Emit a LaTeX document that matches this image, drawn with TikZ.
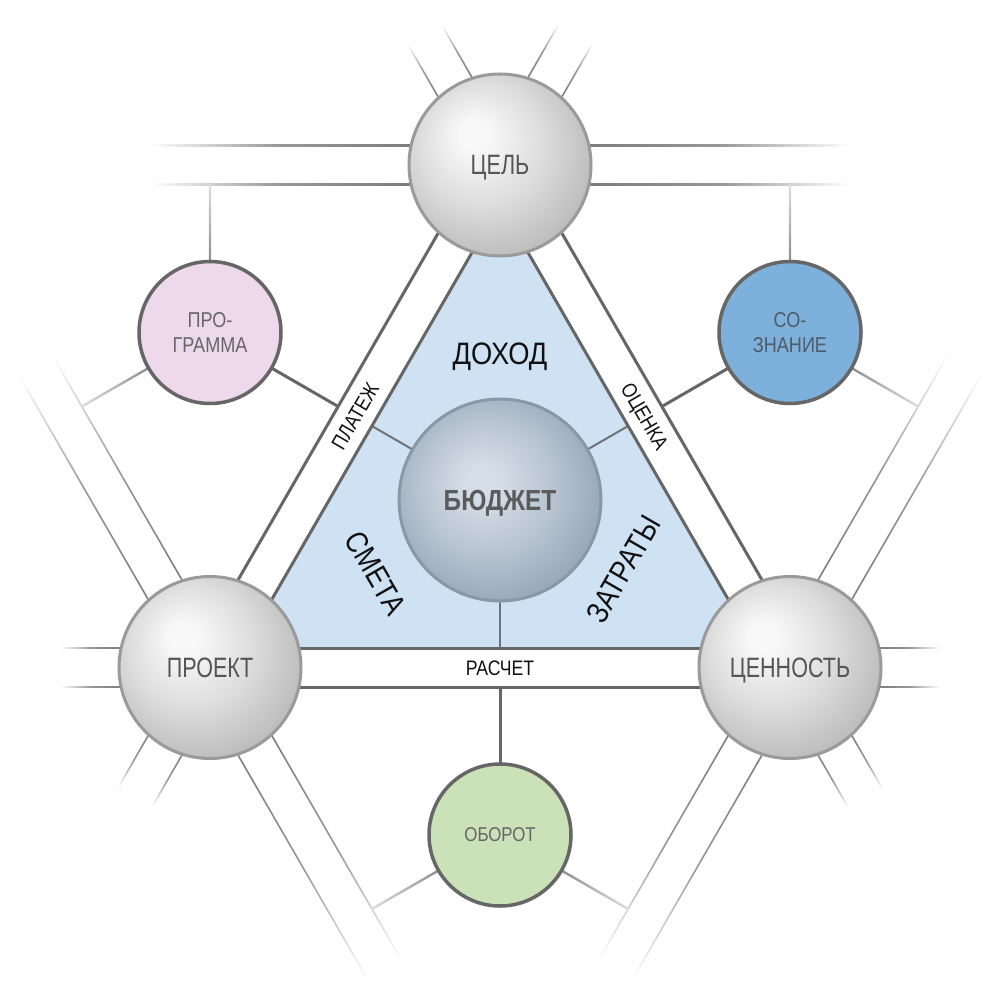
\documentclass[tikz,border=0pt]{standalone}
\usepackage{fontspec}
\setmainfont{Liberation Sans}
\newfontfamily\cond{Liberation Sans}[FakeStretch=0.77]
\newfontfamily\condw{Liberation Sans}[FakeStretch=0.84]
\newfontfamily\condx{Liberation Sans}[FakeStretch=0.88]
\usetikzlibrary{calc}
\definecolor{lnc}{HTML}{666666}
\definecolor{bandc}{HTML}{666666}
\definecolor{trif}{HTML}{CFE2F4}
\definecolor{sph0}{HTML}{F8F8F8}
\definecolor{sph1}{HTML}{DDDDDD}
\definecolor{sph2}{HTML}{BBBBBB}
\definecolor{sphb}{HTML}{9A9A9A}
\definecolor{bu0}{HTML}{D5DEE8}
\definecolor{bu1}{HTML}{B9C5D2}
\definecolor{bu2}{HTML}{95A4B5}
\definecolor{bub}{HTML}{8A97A4}
\definecolor{pinkf}{HTML}{EDD9EB}
\definecolor{bluef}{HTML}{7DB0DA}
\definecolor{greenf}{HTML}{CBE1B8}
\definecolor{labc}{HTML}{555555}
\definecolor{budtx}{HTML}{5B5B5B}
\definecolor{smc}{HTML}{666666}
\definecolor{soztx}{HTML}{4F5B66}
\definecolor{txk}{HTML}{111111}
\pgfdeclareradialshading{graysphere}{\pgfpoint{-8bp}{9bp}}{color(0bp)=(sph0); color(4bp)=(sph0); color(17bp)=(sph1); color(30bp)=(sph2); color(50bp)=(sph2)}
\pgfdeclareradialshading{bluesphere}{\pgfpoint{-5bp}{5bp}}{color(0bp)=(bu0); color(4bp)=(bu0); color(16bp)=(bu1); color(29bp)=(bu2); color(50bp)=(bu2)}
% fading line drawn as a thin shaded strip
% #1 start, #2 end, #3 direction angle, #4 start pct, #5 middle pct, #6 end pct, #7 half width
\newcommand\fadeline[7]{%
  \pgfmathsetmacro\cs{cos(#3)}%
  \ifdim\cs pt>0.01pt
    \tikzset{fadesty/.style={left color=lnc!#4!white, right color=lnc!#6!white, middle color=lnc!#5!white}}%
  \else\ifdim\cs pt<-0.01pt
    \tikzset{fadesty/.style={left color=lnc!#6!white, right color=lnc!#4!white, middle color=lnc!#5!white}}%
  \else
    \tikzset{fadesty/.style={top color=lnc!#6!white, bottom color=lnc!#4!white, middle color=lnc!#5!white}}%
  \fi\fi
  \shade[fadesty] ($(#1)!#7pt!90:(#2)$) -- ($(#2)!#7pt!-90:(#1)$) -- ($(#2)!#7pt!90:(#1)$) -- ($(#1)!#7pt!-90:(#2)$) -- cycle;}
% pair of fading lines continuing a band out of a big circle
\newcommand\bandext[3]{%
  \foreach \o in {90,270}{%
    \pgfmathsetmacro\pa{#2+\o}%
    \coordinate (xs) at ($(#1)+(#2:88)+(\pa:19.5)$);
    \coordinate (xe) at ($(#1)+(#2:#3)+(\pa:19.5)$);
    \fadeline{xs}{xe}{#2}{85}{68}{0}{0.8}
  }}
% outward spoke of a small circle
\newcommand\spoke[2]{%
  \coordinate (ys) at ($(#1)+(#2:70)$);
  \coordinate (ye) at ($(#1)+(#2:148)$);
  \fadeline{ys}{ye}{#2}{75}{48}{22}{1.2}}
% band strip between two big circles
\newcommand\band[2]{%
  \fill[white] ($(#1)!19.5pt!90:(#2)$) -- ($(#2)!19.5pt!-90:(#1)$) -- ($(#2)!19.5pt!90:(#1)$) -- ($(#1)!19.5pt!-90:(#2)$) -- cycle;
  \draw[bandln] ($(#1)!19.5pt!90:(#2)$) -- ($(#2)!19.5pt!-90:(#1)$);
  \draw[bandln] ($(#1)!19.5pt!-90:(#2)$) -- ($(#2)!19.5pt!90:(#1)$);}
\tikzset{
  bandln/.style={draw=bandc, line width=3pt},
  spkout/.style={draw=lnc, line width=3pt},
  spkin/.style={draw=lnc!92!white, line width=2pt},
  bigc/.style={circle, inner sep=0pt, minimum size=182pt, draw=sphb, line width=3pt, shade, shading=graysphere, text=labc, font=\cond\fontsize{28}{30}\selectfont, text height=20pt, text depth=0pt},
  budc/.style={circle, inner sep=0pt, minimum size=202pt, draw=bub, line width=3pt, shade, shading=bluesphere, text=budtx, font=\condw\bfseries\fontsize{29}{32}\selectfont, text height=21pt, text depth=0pt},
  smallc/.style={circle, inner sep=0pt, minimum size=142pt, draw=smc, line width=3.5pt, text=smc, align=center, font=\condw\fontsize{21.5}{24.5}\selectfont},
  bandlab/.style={inner sep=0pt, text=txk, font=\condw\fontsize{21}{23}\selectfont, text height=15pt, text depth=0pt},
  trilab/.style={inner sep=0pt, text=txk, font=\condw\fontsize{31}{33}\selectfont, text height=22pt, text depth=0pt}
}
\begin{document}
\begin{tikzpicture}[x=1pt,y=-1pt]
\useasboundingbox (0,0) rectangle (1000,1000);
\coordinate (G) at (500,500);
\coordinate (A) at (500,165);
\coordinate (B) at (210,667.5);
\coordinate (C) at (790,667.5);
\coordinate (P) at (210,332.5);
\coordinate (S) at (790,332.5);
\coordinate (O) at (500,835);
% inner blue triangle
\coordinate (A1) at ($(G)!0.8836!(A)$);
\coordinate (B1) at ($(G)!0.8836!(B)$);
\coordinate (C1) at ($(G)!0.8836!(C)$);
\fill[trif] (A1) -- (B1) -- (C1) -- cycle;
% band continuations
\bandext{A}{0}{350}
\bandext{A}{180}{350}
\bandext{B}{60}{350}
\bandext{B}{240}{350}
\bandext{C}{120}{350}
\bandext{C}{300}{350}
\bandext{A}{300}{150}
\bandext{A}{240}{150}
\bandext{B}{120}{150}
\bandext{B}{180}{150}
\bandext{C}{60}{150}
\bandext{C}{0}{150}
% outward spokes of small circles
\spoke{P}{270}
\spoke{P}{150}
\spoke{S}{270}
\spoke{S}{30}
\spoke{O}{150}
\spoke{O}{30}
% spokes toward the centre
\coordinate (Pm) at ($(G)!0.5!(P)$);
\coordinate (Sm) at ($(G)!0.5!(S)$);
\coordinate (Om) at ($(G)!0.5!(O)$);
\draw[spkout] (P) -- (Pm);
\draw[spkin] (Pm) -- (G);
\draw[spkout] (S) -- (Sm);
\draw[spkin] (Sm) -- (G);
\draw[spkout] (O) -- (Om);
\draw[spkin] (Om) -- (G);
% bands
\band{A}{B}
\band{A}{C}
\band{B}{C}
% circles
\node[bigc] (cel) at (A) {ЦЕЛЬ};
\node[bigc] (proj) at (B) {ПРОЕКТ};
\node[bigc] (cen) at (C) {ЦЕННОСТЬ};
\node[budc] (bud) at (G) {БЮДЖЕТ};
\node[smallc, fill=pinkf] (prog) at (P) {ПРО-\\ГРАММА};
\node[smallc, fill=bluef, text=soztx] (soz) at (S) {СО-\\ЗНАНИЕ};
\node[smallc, fill=greenf, font=\condw\fontsize{20}{22}\selectfont] (obo) at (O) {ОБОРОТ};
% labels
\node[bandlab, rotate=60] (lplat) at ($(A)!0.5!(B)$) {ПЛАТЕЖ};
\node[bandlab, rotate=-60] (locen) at ($(A)!0.5!(C)$) {ОЦЕНКА};
\node[bandlab] (lras) at ($(B)!0.5!(C)$) {РАСЧЕТ};
\node[trilab, font=\condx\fontsize{31}{33}\selectfont] (ldoh) at (500,353) {ДОХОД};
\node[trilab, rotate=-60] (lsm) at (376,573) {СМЕТА};
\node[trilab, rotate=60] (lzat) at (623,569) {ЗАТРАТЫ};
\end{tikzpicture}
\end{document}
